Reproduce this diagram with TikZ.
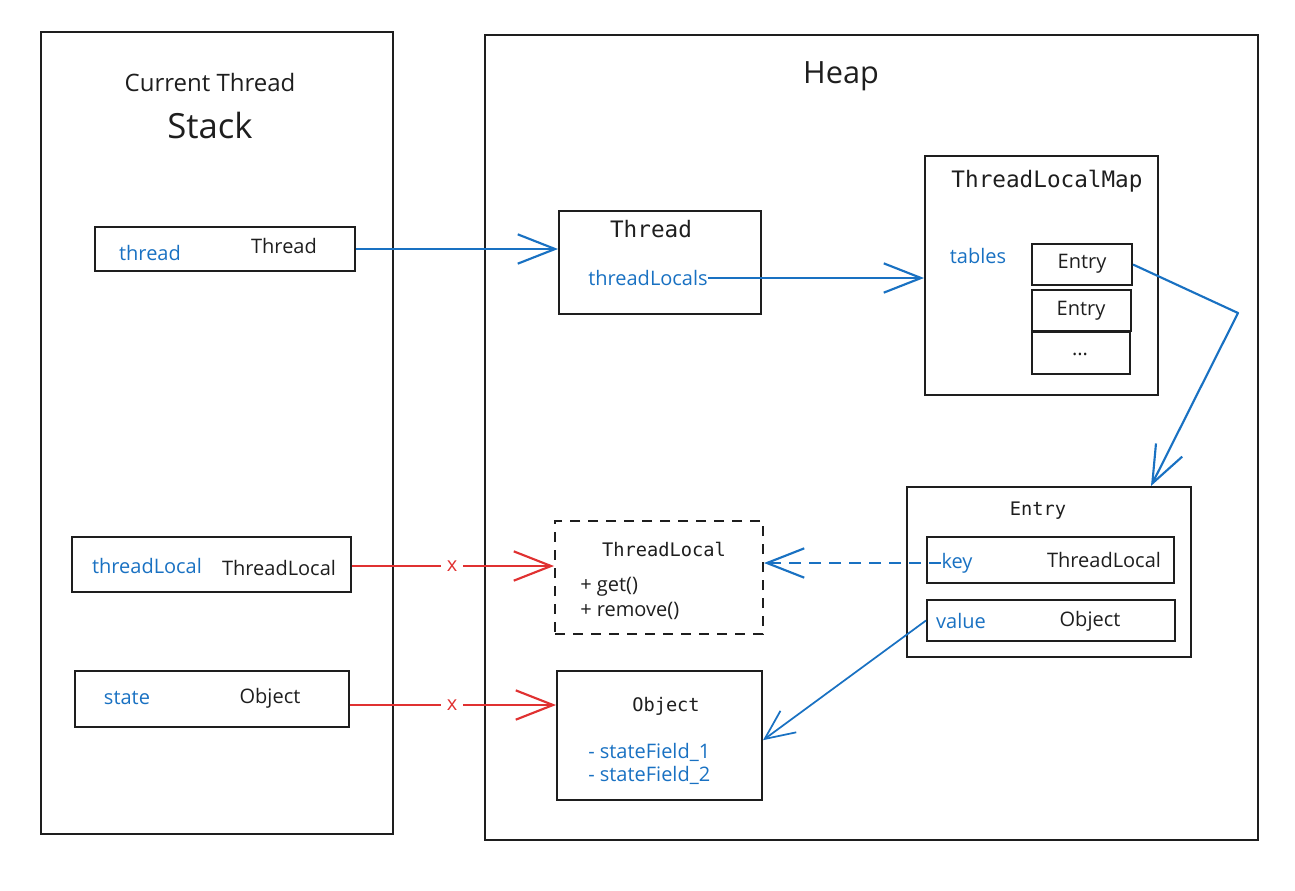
\documentclass[tikz,border=0pt]{standalone}
\usepackage{fontspec}
\setmainfont{Open Sans}
\newfontfamily\codefont{DejaVu Sans Mono}
\usetikzlibrary{arrows.meta}
\definecolor{ink}{HTML}{1E1E1E}
\definecolor{blu}{HTML}{1971C2}
\definecolor{rd}{HTML}{E03131}

\begin{document}
\begin{tikzpicture}[x=0.75pt,y=-0.75pt,
  box/.style={draw=ink,line width=1.5pt,inner sep=0pt},
  hand/.style={font=\fontsize{15}{17}\selectfont,text=ink,inner sep=0pt},
  field/.style={hand,text=blu},
  code/.style={font=\codefont\fontsize{14}{16}\selectfont,text=ink,inner sep=0pt},
  bigcode/.style={font=\codefont\fontsize{17}{19}\selectfont,text=ink,inner sep=0pt},
  link/.style={draw=blu,line width=1.6pt,-{Straight Barb[length=28pt,width=22pt]}},
  cut/.style={draw=rd,line width=1.6pt}]

\useasboundingbox (0,0) rectangle (1295,890);

\draw (217,433) node[box, minimum width=264pt, minimum height=601.5pt] (stack) {};
\draw (871.5,437.5) node[box, minimum width=579.75pt, minimum height=603.75pt] (heap) {};
\draw (210,82) node[hand, font=\fontsize{18}{20}\selectfont] (curtitle) {Current Thread};
\draw (210,125) node[hand, font=\fontsize{26}{28}\selectfont] (stacktitle) {Stack};
\draw (841,76) node[hand, font=\fontsize{23}{25}\selectfont] (heaptitle) {Heap};

\draw (225,249) node[box, minimum width=195pt, minimum height=33pt] (threadrow) {};
\draw (150,253) node[field] (threadvar) {thread};
\draw (284,246) node[hand] (threadtype) {Thread};

\draw (211.5,564.5) node[box, minimum width=209.25pt, minimum height=41.25pt] (tlrow) {};
\draw (147,566) node[field] (tlvar) {threadLocal};
\draw (279,568) node[hand] (tltype) {ThreadLocal};

\draw (212,699) node[box, minimum width=205.5pt, minimum height=42pt] (staterow) {};
\draw (127,698) node[field] (statevar) {state};
\draw (270,698) node[hand] (statetype) {Object};

\draw (660,262.5) node[box, minimum width=151.5pt, minimum height=77.25pt] (thread) {};
\draw (651,229) node[bigcode] (threadtitle) {Thread};
\draw (648,278) node[field] (tlsvar) {threadLocals};

\draw (1041.5,275.5) node[box, minimum width=174.75pt, minimum height=179.25pt] (tlmap) {};
\draw (1047,181) node[bigcode] (tlmaptitle) {ThreadLocalMap};
\draw (978,256) node[field] (tables) {tables};
\draw (1082,264.5) node[box, minimum width=75pt, minimum height=30.75pt] (slota) {};
\draw (1081.5,310.5) node[box, minimum width=74.25pt, minimum height=30.75pt] (slotb) {};
\draw (1081,353) node[box, minimum width=73.5pt, minimum height=31.5pt] (slotc) {};
\draw (1082,264) node[hand] {Entry};
\draw (1081,311) node[hand] {Entry};
\draw (1080,354) node[hand] {...};

\draw (1049,572) node[box, minimum width=213pt, minimum height=127.5pt] (entry) {};
\draw (1038,511) node[code] (entrytitle) {Entry};
\draw (1050.5,560) node[box, minimum width=185.25pt, minimum height=34.5pt] (keyrow) {};
\draw (957,563) node[field] (keyvar) {key};
\draw (1104,560) node[hand] (keytype) {ThreadLocal};
\draw (1051,620.5) node[box, minimum width=186pt, minimum height=30.75pt] (valrow) {};
\draw (961,621) node[field] (valvar) {value};
\draw (1090,621) node[hand] (valtype) {Object};

\draw (659,577.5) node[box, dashed, dash pattern=on 7.5pt off 6pt, minimum width=156pt, minimum height=84.75pt] (tlocal) {};
\draw (664,549) node[code] (tlocaltitle) {ThreadLocal};
\draw (580,587) node[hand, anchor=west] (getm) {+ get()};
\draw (580,611) node[hand, anchor=west] (removem) {+ remove()};

\draw (659.5,735.5) node[box, minimum width=153.75pt, minimum height=96.75pt] (object) {};
\draw (666,706) node[code] (objecttitle) {Object};
\draw (588,752) node[field, anchor=west] (fielda) {- stateField\_1};
\draw (588,775) node[field, anchor=west] (fieldb) {- stateField\_2};

\draw[link] (threadrow.east) -- (threadrow.east -| thread.west);
\draw[link] (tlsvar.east) -- (tlsvar.east -| tlmap.west);
\coordinate (bend) at (1238,313);
\draw[link, line join=round] (slota.east) -- (bend) -- ([xshift=-30.75pt]entry.north east);
\draw[link, dashed, dash pattern=on 9pt off 6pt] (keyvar.west) -- (keyvar.west -| tlocal.east);
\draw[link, line width=1.3pt, -{Straight Barb[length=22pt,width=20pt]}] (valrow.west) -- ([yshift=-3.5pt]object.east);

\draw (452,566) node[hand, text=rd, inner sep=4pt] (cuta) {x};
\draw (452,705) node[hand, text=rd, inner sep=4pt] (cutb) {x};
\draw[cut] (cuta -| tlrow.east) -- (cuta.west);
\draw[cut, -{Straight Barb[length=28pt,width=22pt]}] (cuta.east) -- (cuta -| tlocal.west);
\draw[cut] (cutb -| staterow.east) -- (cutb.west);
\draw[cut, -{Straight Barb[length=28pt,width=22pt]}] (cutb.east) -- (cutb -| object.west);
\end{tikzpicture}
\end{document}
